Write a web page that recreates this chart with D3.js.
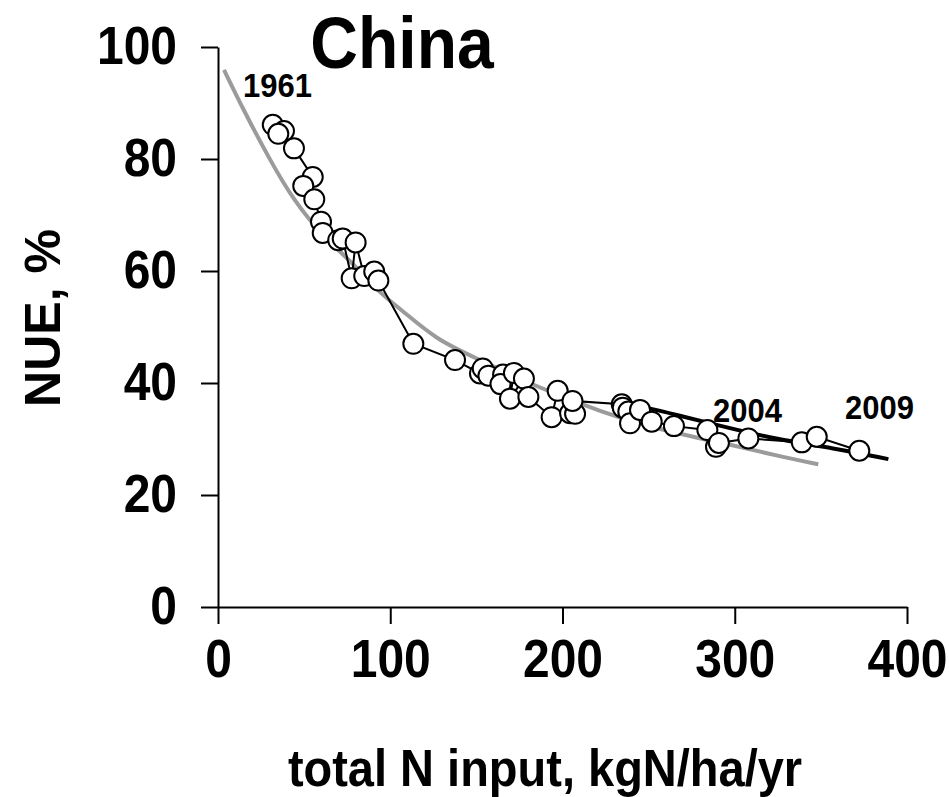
<!DOCTYPE html>
<html>
<head>
<meta charset="utf-8">
<script src="https://cdn.jsdelivr.net/npm/d3@7"></script>
<style>
body { margin: 0; background: #fff; }
text { font-family: "Liberation Sans", Arial, sans-serif; font-weight: bold; }
</style>
</head>
<body>
<div class="chart"></div>
<script>
// observed points 1961 -> 2009 (total N input, NUE %)
var nInput = [31.8, 38.3, 35.0, 44.1, 55.0, 49.5, 55.9, 59.8, 60.8, 69.8, 72.4, 77.6, 79.9, 84.9, 90.7, 93.1,
    113.4, 137.6, 152.1, 153.7, 157.0, 165.5, 164.0, 171.8, 169.5, 177.6, 180.2, 193.7, 197.2, 204.4, 207.3, 205.8,
    234.4, 235.0, 238.2, 239.2, 245.0, 251.8, 264.7, 284.1, 289.1, 290.8, 307.9, 338.9, 347.6, 372.3]
var nue = [86.1, 85.0, 84.5, 81.9, 76.8, 75.2, 72.8, 68.8, 66.8, 65.5, 65.8, 58.7, 65.1, 59.1, 59.9, 58.3,
    47.0, 44.1, 41.7, 42.6, 41.3, 41.5, 39.8, 41.8, 37.2, 40.8, 37.5, 33.9, 38.6, 34.6, 34.5, 36.8,
    36.2, 35.6, 34.9, 32.8, 35.2, 33.1, 32.3, 31.6, 28.6, 29.3, 30.1, 29.4, 30.4, 27.9]

// grey fitted curve
var greyX = [3.5, 14.7, 30.2, 43.7, 61.1, 78.5, 94, 105.7, 126.8, 150.2, 185, 221.8, 256.6, 299.2, 330.2, 348.5]
var greyY = [95.9, 88.8, 79.8, 72.7, 66.1, 61.4, 56, 53.3, 47.7, 44.4, 39.3, 34.9, 31.6, 28.9, 26.6, 25.5]

// black fitted curve (recent years)
var blackX = [232, 250.8, 266.3, 285.6, 324.4, 357.2, 389.2]
var blackY = [36.5, 35.5, 34.3, 32.8, 29.9, 28.4, 26.4]

var xTicks = [0, 100, 200, 300, 400]
var yTicks = [0, 20, 40, 60, 80, 100]

var yearLabels = ["1961", "2004", "2009"]
var yearX = [14.5, 287.4, 364]
var yearY = [91.1, 33.0, 33.6]

var W = 949, H = 797
var stretch = "scale(1,1.1)"   // the original lettering is a little taller than Arial

var svg = d3.select(".chart").append("svg")
    .attr("width", W)
    .attr("height", H)

var x = d3.scaleLinear().domain([0, 400]).range([218, 907])
var y = d3.scaleLinear().domain([0, 100]).range([607, 47])

// axes
var yAxis = svg.append("g")
    .attr("transform", "translate(218,0)")
    .call(d3.axisLeft(y).tickValues(yTicks).tickSize(17).tickSizeOuter(0).tickPadding(24))
var xAxis = svg.append("g")
    .attr("transform", "translate(0,607)")
    .call(d3.axisBottom(x).tickValues(xTicks).tickSize(17).tickSizeOuter(0).tickPadding(13))

svg.selectAll(".domain, .tick line")
    .attr("stroke", "#000")
    .attr("stroke-width", 2)
svg.selectAll(".tick text")
    .attr("font-size", 48)
    .attr("fill", "#000")
    .attr("font-family", null)
    .attr("transform", stretch)

// curves
var greyData = greyX.map(function(d, i) { return [d, greyY[i]] })
var blackData = blackX.map(function(d, i) { return [d, blackY[i]] })
var pts = nInput.map(function(d, i) { return [d, nue[i]] })

var curve = d3.line()
    .x(function(d) { return x(d[0]) })
    .y(function(d) { return y(d[1]) })
    .curve(d3.curveBasis)

svg.append("path")
    .datum(greyData)
    .attr("d", curve)
    .attr("fill", "none")
    .attr("stroke", "#9b9b9b")
    .attr("stroke-width", 4)

svg.append("path")
    .datum(blackData)
    .attr("d", curve)
    .attr("fill", "none")
    .attr("stroke", "#000")
    .attr("stroke-width", 4)

var joined = d3.line()
    .x(function(d) { return x(d[0]) })
    .y(function(d) { return y(d[1]) })

svg.append("path")
    .datum(pts)
    .attr("d", joined)
    .attr("fill", "none")
    .attr("stroke", "#000")
    .attr("stroke-width", 2)

svg.append("g")
    .selectAll("circle")
    .data(pts)
    .enter()
    .append("circle")
    .attr("cx", function(d) { return x(d[0]) })
    .attr("cy", function(d) { return y(d[1]) })
    .attr("r", 10)
    .attr("fill", "#fff")
    .attr("stroke", "#000")
    .attr("stroke-width", 2)

// year annotations
svg.append("g")
    .selectAll("text")
    .data(yearLabels)
    .enter()
    .append("text")
    .attr("transform", function(d, i) { return "translate(" + x(yearX[i]) + "," + y(yearY[i]) + ") " + stretch })
    .attr("font-size", 31)
    .text(function(d) { return d })

// titles
svg.append("text")
    .attr("transform", "translate(402,68) " + stretch)
    .attr("text-anchor", "middle")
    .attr("font-size", 66)
    .text("China")

svg.append("text")
    .attr("transform", "translate(545,786) " + stretch)
    .attr("text-anchor", "middle")
    .attr("font-size", 47)
    .text("total N input, kgN/ha/yr")

svg.append("text")
    .attr("transform", "translate(60,318) rotate(-90)")
    .attr("text-anchor", "middle")
    .attr("font-size", 50)
    .text("NUE, %")
</script>
</body>
</html>
